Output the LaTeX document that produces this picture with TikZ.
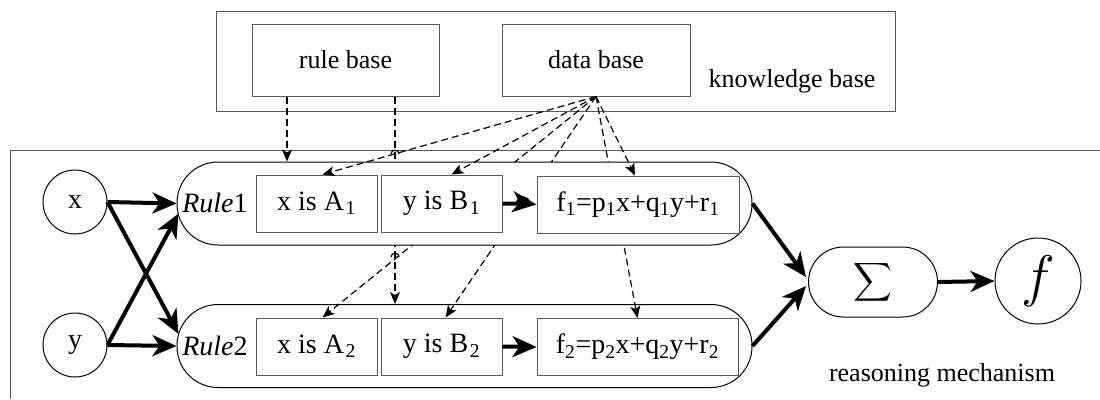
\documentclass[tikz,border=0pt]{standalone}
\usepackage{graphicx}
\usepackage{fontspec}
\setmainfont{Liberation Serif}
\usetikzlibrary{arrows.meta,calc}
\newcommand{\lblfont}{\fontsize{26}{30}\selectfont}
\newcommand{\infont}{\fontsize{28}{32}\selectfont}
\newcommand{\mysub}[1]{\kern1.5pt\textsubscript{#1}}
\begin{document}
\begin{tikzpicture}[x=1pt,y=-1pt,
  box/.style={draw=black!65, line width=1pt, rectangle, inner sep=0pt},
  frameline/.style={draw=black!65, line width=1pt},
  rulebox/.style={draw=black, line width=1pt, fill=white, rectangle, rounded corners=41pt, minimum width=575pt, minimum height=83pt, inner sep=0pt},
  cond/.style={box, fill=white, minimum height=57pt, font=\infont},
  rtext/.style={inner sep=0pt, font=\infont},
  circ/.style={draw=black, line width=1pt, circle, inner sep=0pt, font=\infont},
  thk/.style={line width=4pt, -{Stealth[length=24pt,width=21pt,inset=7pt]}},
  dsh/.style={line width=1.2pt, dash pattern=on 7pt off 4pt, -{Stealth[length=12pt,width=10pt,inset=3pt]}},
  jump/.style={line width=1.2pt}
]
\useasboundingbox (0,0) rectangle (1100,399);
% knowledge base
\node[box, minimum width=679pt, minimum height=100pt] (kb) at (555.5,61) {};
\node[box, minimum width=187pt, minimum height=72pt, font=\lblfont] (rb) at (345.5,60) {rule base};
\node[box, minimum width=188pt, minimum height=72pt, font=\lblfont] (db) at (596,60) {data base};
\node[inner sep=0pt, font=\lblfont] (kbt) at (792,81) {knowledge base};
% reasoning mechanism frame
\coordinate (fr0) at (10,399);
\coordinate (fr1) at (10,150);
\coordinate (fr2) at (1100,150);
\draw[frameline] (fr0) -- (fr1) -- (fr2);
\node[inner sep=0pt, font=\lblfont] (rmt) at (942,375) {reasoning mechanism};
% inputs
\node[circ, minimum size=64pt] (x) at (75,202) {x};
\node[circ, minimum size=64pt] (y) at (75,345) {y};
% rule 2 (drawn first)
\node[rulebox] (R2) at (464.5,346) {};
\node[rtext] (r2t) at (215,346) {\textit{Rule}2};
\node[cond, minimum width=121pt] (A2) at (316.5,346.5) {x is A\mysub{2}};
\node[cond, minimum width=121pt] (B2) at (441.5,346.5) {y is B\mysub{2}};
\node[cond, minimum width=201pt] (f2) at (637.5,347) {f\textsubscript{2}=p\textsubscript{2}x+q\textsubscript{2}y+r\textsubscript{2}};
% dashed lines passing below Rule1
\coordinate (rbR) at ([xshift=49.5pt]rb.south);
\draw[dsh] (rbR) -- (rbR |- R2.north);
\draw[dsh] (db.south) -- ([xshift=6pt]A2.north);
\draw[dsh] (db.south) -- ([xshift=4pt]B2.north);
\draw[dsh] (db.south) -- (f2.north);
% rule 1
\node[rulebox] (R1) at (464.5,203.5) {};
\node[rtext] (r1t) at (215,203) {\textit{Rule}1};
\node[cond, minimum width=121pt] (A1) at (316.5,203.5) {x is A\mysub{1}};
\node[cond, minimum width=121pt] (B1) at (441.5,203.5) {y is B\mysub{1}};
\node[cond, minimum width=202pt] (f1) at (638,204.5) {f\textsubscript{1}=p\textsubscript{1}x+q\textsubscript{1}y+r\textsubscript{1}};
% output
\node[draw=black, line width=1pt, rectangle, rounded corners=35pt, minimum width=129pt, minimum height=70pt, inner sep=0pt] (S) at (873,282) {\scalebox{2.7}{$\displaystyle\sum$}};
\node[circ, minimum size=86pt] (f) at (1038,281) {\scalebox{2.3}{$f$}};
% dashed lines ending in Rule1
\coordinate (rbL) at ([xshift=-58.5pt]rb.south);
\draw[dsh] (rbL) -- (rbL |- R1.north);
\draw[dsh] (db.south) -- ([xshift=6pt]A1.north);
\draw[dsh] (db.south) -- ([xshift=10pt]B1.north);
\draw[dsh] (db.south) -- ([xshift=-3pt]f1.north);
% line jumps
\coordinate (j1) at (395,154);
\coordinate (j2) at (395,257);
\draw[jump] ([xshift=-4pt]j1) .. controls ([xshift=-4pt,yshift=5pt]j1) and ([xshift=4pt,yshift=5pt]j1) .. ([xshift=4pt]j1);
\draw[jump] ([xshift=-4pt]j2) .. controls ([xshift=-4pt,yshift=5pt]j2) and ([xshift=4pt,yshift=5pt]j2) .. ([xshift=4pt]j2);
% thick arrows
\draw[thk] (x.east) -- (R1.west);
\draw[thk] (y.east) -- (R2.west);
\draw[thk] (x.east) -- ($(R2.west)+(2,-12)$);
\draw[thk] (y.east) -- ($(R1.west)+(2,10)$);
\coordinate (j3) at (523,203.5);
\draw[thk] (B1.east) -- ([xshift=-5pt]j3) .. controls ([xshift=-5pt,yshift=7pt]j3) and ([xshift=5pt,yshift=7pt]j3) .. ([xshift=5pt]j3) -- (f1.west);
\draw[thk] (B2.east) -- (f2.west);
\draw[thk] (R1.east) -- ($(S.west)+(-2,-5)$);
\draw[thk] (R2.east) -- ($(S.west)+(-2,4)$);
\draw[thk] (S.east) -- (f.west);
\end{tikzpicture}
\end{document}
